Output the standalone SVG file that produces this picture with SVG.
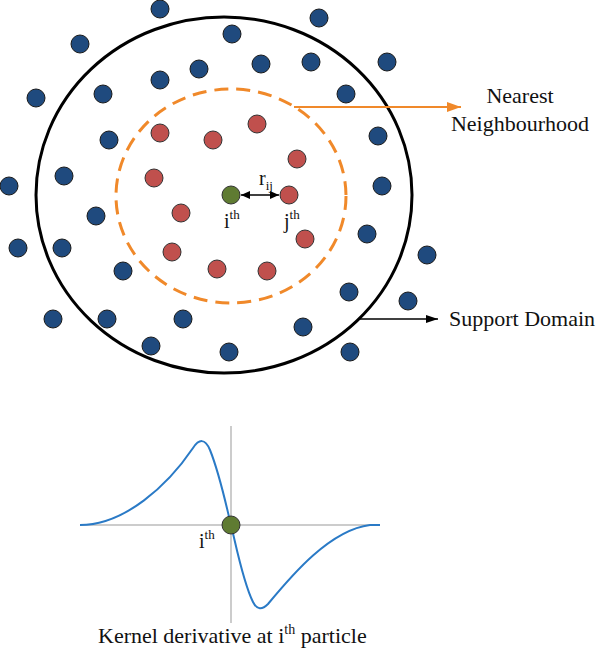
<svg xmlns="http://www.w3.org/2000/svg" width="598" height="650" viewBox="0 0 598 650">
<defs>
<style>
.b{fill:#1f4a7e;stroke:#1a1a1a;stroke-width:1}
.r{fill:#c0504d;stroke:#333;stroke-width:1}
.g{fill:#5f7b32;stroke:#333;stroke-width:1}
.t{font-family:"Liberation Serif","Times New Roman",serif;fill:#111}
</style>
<marker id="ao" viewBox="0 0 14 10" refX="14" refY="5" markerWidth="14" markerHeight="10" markerUnits="userSpaceOnUse" orient="auto"><path d="M0,0 L14,5 L0,10 Z" fill="#f0892a"/></marker>
<marker id="ak" viewBox="0 0 12 8" refX="12" refY="4" markerWidth="12" markerHeight="8" markerUnits="userSpaceOnUse" orient="auto"><path d="M0,0 L12,4 L0,8 Z" fill="#000"/></marker>
<marker id="ad" viewBox="0 0 9 8" refX="9" refY="4" markerWidth="9" markerHeight="8" markerUnits="userSpaceOnUse" orient="auto-start-reverse"><path d="M0,0 L9,4 L0,8 Z" fill="#000"/></marker>
</defs>
<rect width="598" height="650" fill="#fff"/>
<g id="support-domain"><ellipse cx="224" cy="195" rx="188" ry="178" fill="none" stroke="#000" stroke-width="3"/></g>
<g id="nearest-neighbourhood"><ellipse cx="231" cy="196" rx="115" ry="107" fill="none" stroke="#f0892a" stroke-width="3" stroke-dasharray="14 8"/></g>
<g id="blue-particles">
<circle class="b" cx="160" cy="9" r="9"/><circle class="b" cx="80" cy="44" r="9"/><circle class="b" cx="319" cy="18" r="9"/><circle class="b" cx="232" cy="34" r="9"/>
<circle class="b" cx="36" cy="98" r="9"/><circle class="b" cx="103" cy="94" r="9"/><circle class="b" cx="160" cy="80" r="9"/><circle class="b" cx="199" cy="69" r="9"/>
<circle class="b" cx="261" cy="64" r="9"/><circle class="b" cx="311" cy="62" r="9"/><circle class="b" cx="387" cy="62" r="9"/><circle class="b" cx="346" cy="94" r="9"/>
<circle class="b" cx="109" cy="140" r="9"/><circle class="b" cx="378" cy="136" r="9"/><circle class="b" cx="64" cy="176" r="9"/><circle class="b" cx="9" cy="186" r="9"/>
<circle class="b" cx="382" cy="186" r="9"/><circle class="b" cx="96" cy="216" r="9"/><circle class="b" cx="18" cy="248" r="9"/><circle class="b" cx="62" cy="248" r="9"/>
<circle class="b" cx="367" cy="234" r="9"/><circle class="b" cx="427" cy="255" r="9"/><circle class="b" cx="123" cy="271" r="9"/><circle class="b" cx="349" cy="292" r="9"/>
<circle class="b" cx="408" cy="301" r="9"/><circle class="b" cx="53" cy="319" r="9"/><circle class="b" cx="107" cy="319" r="9"/><circle class="b" cx="183" cy="319" r="9"/>
<circle class="b" cx="303" cy="327" r="9"/><circle class="b" cx="151" cy="346" r="9"/><circle class="b" cx="229" cy="352" r="9"/><circle class="b" cx="350" cy="352" r="9"/>
</g>
<g id="red-particles">
<circle class="r" cx="160" cy="133" r="9"/><circle class="r" cx="213" cy="140" r="9"/><circle class="r" cx="257" cy="124" r="9"/><circle class="r" cx="297" cy="159" r="9"/>
<circle class="r" cx="154" cy="178" r="9"/><circle class="r" cx="181" cy="213" r="9"/><circle class="r" cx="172" cy="252" r="9"/><circle class="r" cx="217" cy="269" r="9"/>
<circle class="r" cx="267" cy="271" r="9"/><circle class="r" cx="305" cy="239" r="9"/>
</g>
<g id="particle-j"><circle class="r" cx="289" cy="195" r="9"/><text class="t" x="284" y="228" font-size="20">j<tspan font-size="13" dy="-9">th</tspan></text></g>
<g id="particle-i"><circle class="g" cx="231" cy="195" r="9"/><text class="t" x="224" y="228" font-size="20">i<tspan font-size="13" dy="-9">th</tspan></text></g>
<g id="connectors">
<line x1="241" y1="195" x2="279" y2="195" stroke="#000" stroke-width="1.5" marker-start="url(#ad)" marker-end="url(#ad)"/>
<line x1="294" y1="107" x2="461" y2="107" stroke="#f0892a" stroke-width="2" marker-end="url(#ao)"/>
<line x1="358" y1="319" x2="438" y2="319" stroke="#000" stroke-width="1.5" marker-end="url(#ak)"/>
</g>
<g id="labels">
<text class="t" x="259" y="185" font-size="20">r<tspan font-size="13" dy="5">ij</tspan></text>
<text class="t" x="520" y="103" font-size="22" text-anchor="middle">Nearest</text>
<text class="t" x="520" y="131" font-size="22" text-anchor="middle">Neighbourhood</text>
<text class="t" x="449" y="326" font-size="22">Support Domain</text>
</g>
<g id="kernel-plot">
<line x1="80" y1="525" x2="380" y2="525" stroke="#999" stroke-width="1"/>
<line x1="231" y1="426" x2="231" y2="623" stroke="#999" stroke-width="1"/>
<path d="M80,525 C125,525 168,485 193,448 C199,439 205,438 210,450 C220,475 226,505 231,525 C236,545 243,582 253,602 C257,610 262,610 268,604 C292,575 330,530 370,525 L380,525" fill="none" stroke="#2a7ac6" stroke-width="2"/>
<circle class="g" cx="231" cy="525" r="9"/>
<text class="t" x="199" y="548" font-size="20">i<tspan font-size="13" dy="-9">th</tspan></text>
<text class="t" x="98" y="643" font-size="22">Kernel derivative at i<tspan font-size="14" dy="-9">th</tspan><tspan dy="9"> particle</tspan></text>
</g>
</svg>
